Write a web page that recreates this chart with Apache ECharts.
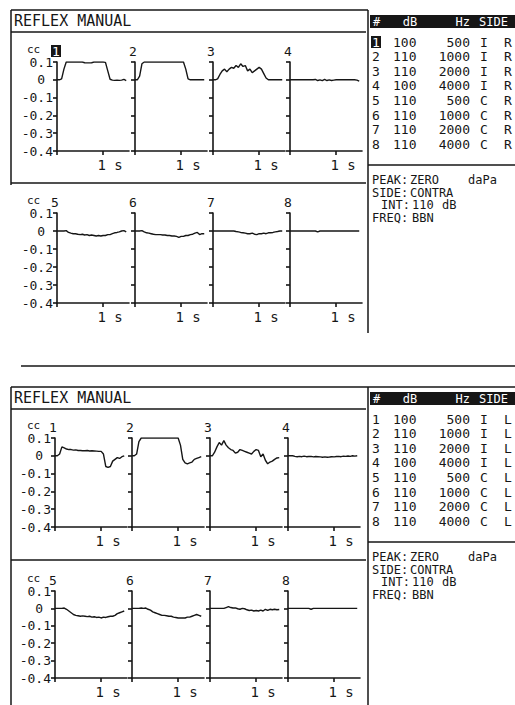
<!DOCTYPE html>
<html><head><meta charset="utf-8">
<script src="https://cdn.jsdelivr.net/npm/echarts@6/dist/echarts.min.js"></script>
<style>html,body{margin:0;padding:0;background:#fff}#c{width:515px;height:705px}</style>
</head><body><div id="c"></div>
<script>
// ---- data ----
const T = [0,0.05,0.1,0.15,0.2,0.25,0.3,0.35,0.4,0.45,0.5,0.55,0.6,0.65,0.7,0.75,0.8,0.85,0.9,0.95,1.0,1.05,1.1,1.15,1.2,1.25,1.3,1.35,1.4,1.45,1.5];
// right ear (top printout)
const R1 = [0,0,0.005,0.06,0.1,0.1,0.1,0.1,0.1,0.1,0.1,0.1,0.096,0.095,0.095,0.096,0.1,0.1,0.1,0.1,0.1,0.098,0.05,0.003,-0.002,-0.003,-0.002,-0.003,-0.002,0.002,-0.004];
const R2 = [0,0,0.02,0.09,0.1,0.1,0.1,0.1,0.1,0.1,0.1,0.1,0.1,0.1,0.1,0.1,0.1,0.1,0.1,0.1,0.1,0.1,0.06,0.005,0,0,0,0,0,0,0];
const R3 = [0,0,0.005,0.03,0.05,0.06,0.045,0.06,0.07,0.065,0.08,0.07,0.09,0.075,0.08,0.05,0.06,0.04,0.05,0.06,0.07,0.06,0.035,0.01,0,0,0,0,0,0,0];
const R4 = [0,0,0,0,0,0,0,0,0,0,0,0.002,-0.004,0,-0.005,0.002,-0.004,0,-0.004,-0.002,0,0,0,0,0,0,0,0,0,-0.002,-0.008];
const R5 = [0,0,0,0,0.002,-0.008,-0.012,-0.015,-0.015,-0.018,-0.02,-0.018,-0.022,-0.02,-0.025,-0.022,-0.025,-0.028,-0.025,-0.028,-0.025,-0.025,-0.02,-0.02,-0.015,-0.01,-0.008,-0.005,0,0.002,-0.005];
const R6 = [0,0,0,0.002,-0.005,-0.01,-0.012,-0.015,-0.018,-0.02,-0.02,-0.02,-0.022,-0.022,-0.025,-0.025,-0.028,-0.028,-0.03,-0.035,-0.03,-0.03,-0.025,-0.025,-0.02,-0.018,-0.012,-0.008,-0.02,-0.015,-0.015];
const R7 = [0,0,0,0,0,0,0,0,0,0,-0.003,-0.005,-0.008,-0.01,-0.012,-0.015,-0.015,-0.012,-0.018,-0.02,-0.015,-0.015,-0.012,-0.015,-0.01,-0.01,-0.008,-0.005,-0.003,0,0];
const R8 = [0,0,0,0,0,0,0,0,0,0,0,0,-0.005,0,0,0,0,0,0,0,0,0,0,0,0,0,0,0,0,0,0];
// left ear (bottom printout)
const L1 = [0,0,0.01,0.05,0.045,0.038,0.035,0.035,0.032,0.033,0.03,0.03,0.028,0.028,0.03,0.027,0.028,0.027,0.026,0.025,0.025,0.01,-0.06,-0.065,-0.06,-0.03,-0.02,-0.01,-0.015,-0.005,0];
const L2 = [0,0,0.01,0.08,0.1,0.1,0.1,0.1,0.1,0.1,0.1,0.1,0.1,0.1,0.1,0.1,0.1,0.1,0.1,0.1,0.1,0.06,-0.02,-0.04,-0.045,-0.04,-0.035,-0.02,-0.015,-0.01,-0.005];
const L3 = [0,0,0.02,0.05,0.075,0.06,0.085,0.06,0.045,0.035,0.03,0.015,0.02,0.035,0.03,0.025,0.02,0.015,0.01,0.025,0.035,0.03,-0.005,0.01,-0.025,-0.045,-0.035,-0.03,-0.02,-0.012,-0.01];
const L4 = [0,0,0,-0.003,-0.005,-0.003,-0.005,-0.002,-0.005,-0.004,-0.003,-0.006,-0.004,-0.005,-0.006,-0.008,-0.006,-0.008,-0.007,-0.005,-0.006,-0.004,-0.003,-0.005,-0.002,-0.003,-0.001,-0.003,0,-0.002,0];
const L5 = [0,0,0,0,0.002,-0.005,-0.015,-0.025,-0.035,-0.04,-0.042,-0.045,-0.043,-0.045,-0.047,-0.045,-0.05,-0.048,-0.052,-0.05,-0.055,-0.05,-0.052,-0.048,-0.045,-0.045,-0.04,-0.03,-0.025,-0.02,-0.015];
const L6 = [0,0,0,0,0.002,0,0.002,-0.005,-0.01,-0.02,-0.025,-0.03,-0.035,-0.04,-0.04,-0.042,-0.045,-0.045,-0.05,-0.052,-0.055,-0.055,-0.055,-0.055,-0.05,-0.05,-0.045,-0.04,-0.035,-0.04,-0.045];
const L7 = [0,0,0,0,0,0,0,0.005,0.01,0.005,0.002,0.003,-0.002,-0.005,0,-0.002,-0.008,-0.012,-0.01,-0.015,-0.012,-0.015,-0.01,-0.015,-0.005,-0.012,-0.005,-0.008,-0.005,-0.008,-0.006];
const L8 = [0,0,0,0,0,0,0,0,0,0,-0.005,0,0,0,0,0,0,0,0,0,0,0,0,0,0,0,0,0,0,0,0];

const channelNo = ['1','2','3','4','5','6','7','8'];
const dBvals = ['100','110','110','100','110','110','110','110'];
const HzVals = ['500','1000','2000','4000','500','1000','2000','4000'];
const sideVals = ['I','I','I','I','C','C','C','C'];
const yTicks = [-0.4,-0.3,-0.2,-0.1,0,0.1];
const xTickLabel = '1 s';
const title = 'REFLEX MANUAL';
const tableHeader = ['#','dB','Hz','SIDE'];
const infoLabels = ['PEAK:','SIDE:','INT:','FREQ:'];
const infoValues = ['ZERO','CONTRA','110','BBN'];
const infoUnits = ['daPa','','dB',''];

// ---- layout ----
const FONT = "'DejaVu Sans Mono', monospace";
const INK = '#161616';
const printouts = [
  {dy:0, colX:[57,135,213,290], rowTop:[62,213], rowH:[89,90], ear:'R', traces:[R1,R2,R3,R4,R5,R6,R7,R8], sel:true, leftBorderEnd:185, rightLineEnd:333, topLineEnd:368},
  {dy:377, colX:[55,132,210,288], rowTop:[438,591], rowH:[89,87], ear:'L', traces:[L1,L2,L3,L4,L5,L6,L7,L8], sel:false, leftBorderEnd:705, rightLineEnd:705, topLineEnd:515}
];

const grids = [], xAxes = [], yAxes = [], series = [], graphics = [];
function line(x1,y1,x2,y2,w){graphics.push({type:'line',shape:{x1,y1,x2,y2},style:{stroke:INK,lineWidth:w||1.5},silent:true});}
function rect(x,y,w,h,fill){graphics.push({type:'rect',shape:{x,y,width:w,height:h},style:{fill:fill||INK},silent:true});}
function txt(x,y,s,o){o=o||{};graphics.push({type:'text',style:{x,y,text:s,fill:o.fill||INK,font:(o.weight||'normal')+' '+(o.size||14)+'px '+FONT,align:o.align||'left',verticalAlign:'middle'},silent:true});}

printouts.forEach((p,pi)=>{
  const dy = p.dy;
  // frame
  line(11,10+dy,p.topLineEnd,10+dy);
  line(11,10+dy,11,p.leftBorderEnd);
  line(11,32+dy,366,32+dy);
  line(11,183+dy,366,183+dy);
  line(368,10+dy,368,p.rightLineEnd);
  txt(14,21+dy,title,{size:15});
  // table
  rect(370,15+dy,145,13);
  txt(373,22+dy,tableHeader[0],{fill:'#fff',size:12});
  txt(410,22+dy,tableHeader[1],{fill:'#fff',size:12,align:'center'});
  txt(470,22+dy,tableHeader[2],{fill:'#fff',size:12,align:'right'});
  txt(479,22+dy,tableHeader[3],{fill:'#fff',size:12});
  for(let i=0;i<8;i++){
    const y = 42 + 14.6*i + dy;
    if(p.sel && i===0){ rect(371,36+dy,10,12); txt(372,y,channelNo[i],{fill:'#fff',size:13}); }
    else txt(372,y,channelNo[i],{size:13});
    txt(393,y,dBvals[i],{size:13});
    txt(470,y,HzVals[i],{align:'right',size:13});
    txt(484,y,sideVals[i],{align:'center',size:13});
    txt(508,y,p.ear,{align:'center',size:13});
  }
  line(368,165+dy,515,165+dy);
  const infoY=[180,192.5,205,217.5];
  const labX=[372,372,381,372], valX=[410,410,412,412], unitX=[468,0,442,0];
  for(let i=0;i<4;i++){
    txt(labX[i],infoY[i]+dy,infoLabels[i],{size:12});
    txt(valX[i],infoY[i]+dy,infoValues[i],{size:12});
    if(infoUnits[i]) txt(unitX[i],infoY[i]+dy,infoUnits[i],{size:12});
  }
  // plots
  for(let r=0;r<2;r++){
    for(let c=0;c<4;c++){
      const k = r*4+c, gi = grids.length;
      const left = p.colX[c], top = p.rowTop[r];
      grids.push({left:left, top:top, width:72, height:p.rowH[r], outerBoundsMode:'none', containLabel:false});
      xAxes.push({gridIndex:gi,type:'value',min:0,max:1.56,interval:1,
        axisLine:{onZero:false,lineStyle:{color:INK,width:1.6}},
        axisTick:{show:true,length:4,lineStyle:{color:INK,width:1.6},customValues:[0,1]},
        axisLabel:{show:true,customValues:[1],margin:7,color:INK,fontFamily:FONT,fontSize:14,
          padding:[0,0,0,14],formatter:v=>Math.abs(v-1)<1e-9?xTickLabel:''},
        splitLine:{show:false}});
      yAxes.push({gridIndex:gi,type:'value',min:-0.4,max:0.1,interval:0.1,
        axisLine:{show:true,onZero:false,lineStyle:{color:INK,width:1.6}},
        axisTick:{show:true,length:4,lineStyle:{color:INK,width:1.6}},
        axisLabel:{show:c===0,margin:4,color:INK,fontFamily:FONT,fontSize:13,
          formatter:v=>{const q=Math.round(v*10)/10; return q===0?'{z|0}':q.toFixed(1);},
          rich:{z:{fontFamily:FONT,fontSize:13,color:INK,padding:[0,8,0,0]}}},
        splitLine:{show:false}});
      const ys = p.traces[k];
      series.push({type:'line',xAxisIndex:gi,yAxisIndex:gi,data:T.map((t,i)=>[t,ys[i]]),
        showSymbol:false,symbol:'none',lineStyle:{color:INK,width:1.4},silent:true,animation:false});
      // labels above plot
      const ly = top - 11;
      if(c===0) txt(27,ly-2,'cc',{size:11});
      if(p.sel && k===0){ rect(left-6,ly-6,10,12); txt(left-5,ly,channelNo[k],{fill:'#fff',size:13}); }
      else txt(left-6,ly,channelNo[k],{size:13});
    }
  }
});
// separator between printouts
line(21,366,515,366);

const chart = echarts.init(document.getElementById('c'),null,{renderer:'svg',width:515,height:705});
chart.setOption({animation:false,backgroundColor:'#fff',grid:grids,xAxis:xAxes,yAxis:yAxes,series:series,graphic:{elements:graphics}});
</script></body></html>
